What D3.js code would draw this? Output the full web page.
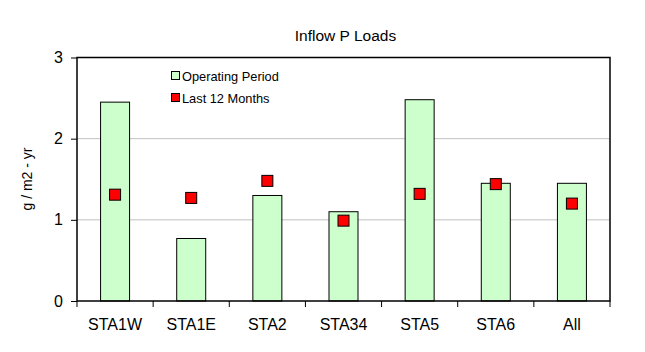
<!DOCTYPE html>
<html><head><meta charset="utf-8">
<script src="https://cdn.jsdelivr.net/npm/d3@7"></script>
<style>body{margin:0;background:#fff}svg{display:block;font-family:"Liberation Sans",Arial,sans-serif}</style>
</head><body><svg id="c" width="645" height="352"></svg>
<script>
const categories = ["STA1W","STA1E","STA2","STA34","STA5","STA6","All"];
const operatingPeriod = [2.45,0.77,1.30,1.10,2.48,1.45,1.45];
const last12Months = [1.31,1.27,1.48,0.99,1.32,1.44,1.20];
const yTicks = [0,1,2,3];
const title = "Inflow P Loads";
const yTitle = "g / m2 - yr";
const legendLabels = ["Operating Period","Last 12 Months"];

const svg = d3.select("#c");
const m = {l:77, r:610, t:57.5, b:301};
const x = d3.scaleBand().domain(categories).range([m.l,m.r]);
const y = d3.scaleLinear().domain([0,3]).range([m.b,m.t]);

// gridlines
svg.append("g").selectAll("line").data(yTicks.filter(d=>d>0&&d<3)).join("line")
  .attr("x1",m.l).attr("x2",m.r).attr("y1",d=>y(d)).attr("y2",d=>y(d))
  .attr("stroke","#c0c0c0").attr("stroke-width",1);

// bars
const bw = 29;
svg.append("g").selectAll("rect").data(operatingPeriod).join("rect")
  .attr("x",(d,i)=>x(categories[i])+x.bandwidth()/2-bw/2)
  .attr("y",d=>y(d)).attr("width",bw).attr("height",d=>m.b-y(d))
  .attr("fill","#ccffcc").attr("stroke","#000").attr("stroke-width",1);

// markers
const ms = 11;
svg.append("g").selectAll("rect").data(last12Months).join("rect")
  .attr("x",(d,i)=>x(categories[i])+x.bandwidth()/2-ms/2)
  .attr("y",d=>y(d)-ms/2).attr("width",ms).attr("height",ms)
  .attr("fill","#ff0000").attr("stroke","#000").attr("stroke-width",1);

// plot frame
svg.append("rect").attr("x",m.l).attr("y",m.t).attr("width",m.r-m.l).attr("height",m.b-m.t)
  .attr("fill","none").attr("stroke","#000").attr("stroke-width",1.5);

// y axis
const ya = svg.append("g").attr("transform",`translate(${m.l},0)`)
  .call(d3.axisLeft(y).tickValues(yTicks).tickFormat(d3.format("d")).tickSize(6).tickPadding(8));
ya.select(".domain").remove();
ya.selectAll("line").attr("stroke","#000");
ya.selectAll("text").attr("font-size",16).attr("fill","#000").style("font-family","Liberation Sans, Arial");

// x axis ticks at boundaries
const bounds = categories.map(c=>x(c)).concat([m.r]);
svg.append("g").selectAll("line").data(bounds).join("line")
  .attr("x1",d=>d).attr("x2",d=>d).attr("y1",m.b).attr("y2",m.b+6).attr("stroke","#000");
svg.append("g").selectAll("text").data(categories).join("text")
  .attr("x",d=>x(d)+x.bandwidth()/2).attr("y",330).attr("text-anchor","middle")
  .attr("font-size",16).attr("fill","#000").text(d=>d);

// title
svg.append("text").attr("x",(m.l+m.r)/2+2).attr("y",41).attr("text-anchor","middle")
  .attr("font-size",15.5).attr("fill","#000").text(title);

// y title
svg.append("text").attr("transform",`translate(32,179) rotate(-90)`)
  .attr("text-anchor","middle").attr("font-size",14).attr("fill","#000").text(yTitle);

// legend
const lg = svg.append("g");
const lc = ["#ccffcc","#ff0000"];
legendLabels.forEach((t,i)=>{
  const ly = 76 + i*22;
  lg.append("rect").attr("x",171.5).attr("y",ly-4.5).attr("width",8).attr("height",8)
    .attr("fill",lc[i]).attr("stroke","#000").attr("stroke-width",1);
  lg.append("text").attr("x",182).attr("y",ly+4.5).attr("font-size",12.8).attr("fill","#000").text(t);
});
</script></body></html>
